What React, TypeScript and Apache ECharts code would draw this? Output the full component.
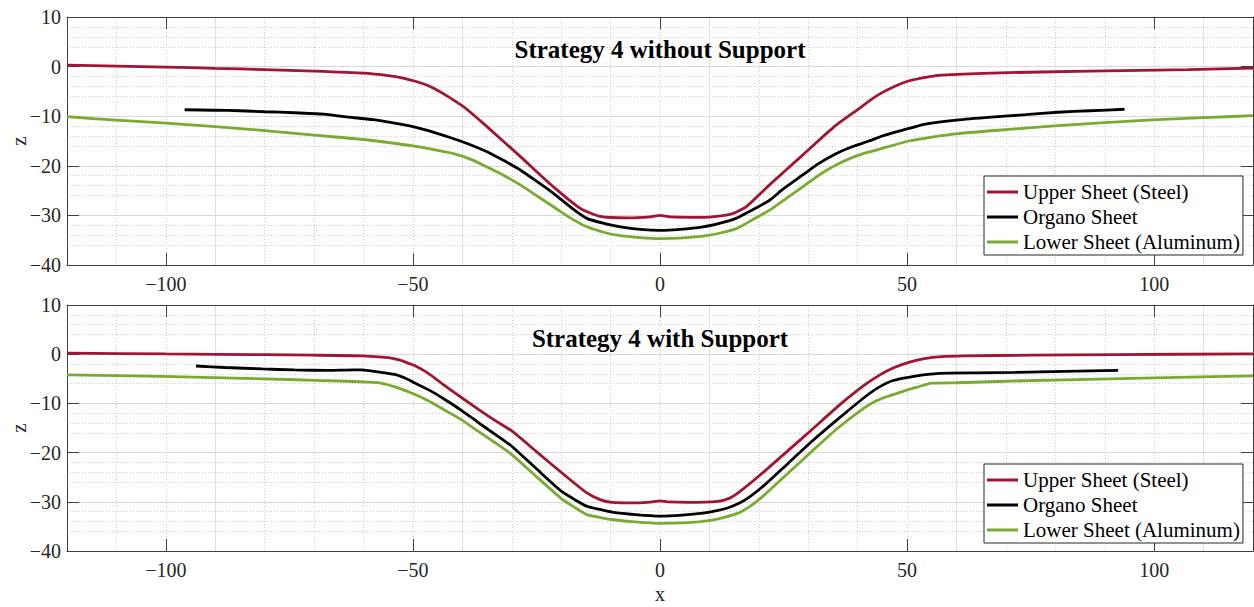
import React, { useEffect, useRef } from "react";
import * as echarts from "echarts";

const NAME_UP = "Upper Sheet (Steel)";
const NAME_ORG = "Organo Sheet";
const NAME_LOW = "Lower Sheet (Aluminum)";

const TITLE_TOP = "Strategy 4 without Support";
const TITLE_BOT = "Strategy 4 with Support";
const X_NAME = "x";
const Z_NAME = "z";

const X_MAJOR_TICKS = [-100, -50, 0, 50, 100];

// Top panel: Strategy 4 without Support
const topUpper: [number, number][] = [
  [-120, 0.3], [-110, 0.1], [-100, -0.1], [-90, -0.35], [-80, -0.6], [-70, -0.9],
  [-60, -1.3], [-55, -1.8], [-52, -2.3], [-49.7, -2.9], [-47.5, -3.6], [-45.7, -4.4],
  [-44.3, -5.2], [-42, -6.6], [-39.6, -8.2], [-34.9, -12.2], [-28.2, -18.2],
  [-21.5, -24.3], [-16.1, -28.6], [-12.1, -30.2], [-6.7, -30.5], [-2, -30.3],
  [0, -30.0], [2, -30.3], [8.7, -30.4], [14.1, -29.8], [17.4, -28.3], [22.1, -23.9],
  [28.8, -17.9], [35.5, -11.9], [40.2, -8.5], [42.5, -6.8], [44.5, -5.5], [47, -4.2],
  [50.3, -2.9], [54, -2.1], [57, -1.7], [67, -1.3], [87, -0.9], [107, -0.6], [120, -0.3],
];
const topOrgano: [number, number][] = [
  [-96.2, -8.7], [-90, -8.8], [-85, -8.9], [-80, -9.1], [-74, -9.3], [-68, -9.6],
  [-63.8, -10.1], [-58, -10.7], [-53.7, -11.4], [-50, -12.1], [-46.9, -12.9],
  [-44, -13.8], [-41, -14.8], [-38, -15.9], [-34.9, -17.2], [-31.5, -19.0],
  [-28.2, -20.9], [-25, -23.1], [-21.5, -25.6], [-18, -28.4], [-14.8, -30.6],
  [-11, -31.7], [-8, -32.3], [-4, -32.8], [0, -33.0], [4, -32.8], [8.7, -32.3],
  [12, -31.6], [15.4, -30.6], [18.5, -29.0], [22.1, -27.0], [25, -24.6], [28.8, -21.9],
  [32, -19.6], [35.5, -17.6], [39, -16.1], [42.3, -15.0], [45, -14.0], [48, -13.1],
  [51, -12.3], [53.7, -11.6], [60, -10.8], [67, -10.2], [74, -9.7], [80.5, -9.2],
  [87, -8.9], [94, -8.6],
];
const topLower: [number, number][] = [
  [-120, -10.1], [-110, -10.8], [-100, -11.4], [-90, -12.1], [-80, -12.9], [-70, -13.8],
  [-60, -14.7], [-55, -15.3], [-50, -16.0], [-45, -16.9], [-41.6, -17.6], [-38, -18.8],
  [-34.9, -20.3], [-31.5, -22.0], [-28.2, -23.9], [-25, -26.0], [-21.5, -28.3],
  [-18, -30.6], [-14.8, -32.3], [-11, -33.5], [-8, -34.1], [-4, -34.5], [0, -34.7],
  [4, -34.6], [8.7, -34.2], [12, -33.6], [15.4, -32.7], [18.5, -31.0], [22.1, -29.0],
  [25.5, -26.6], [28.8, -24.3], [32, -22.0], [35.5, -19.9], [39, -18.3], [42.3, -17.2],
  [46, -16.2], [50.3, -15.0], [55, -14.2], [60.4, -13.5], [70, -12.7], [80.5, -11.9],
  [90, -11.3], [100.6, -10.7], [110, -10.3], [120, -9.9],
];

// Bottom panel: Strategy 4 with Support
const botUpper: [number, number][] = [
  [-120, 0.2], [-100, 0.05], [-80, -0.1], [-70, -0.2], [-60.4, -0.35], [-55, -0.7],
  [-53, -1.1], [-51.5, -1.6], [-49.7, -2.3], [-47.5, -3.5], [-45.5, -4.9], [-43.7, -6.3],
  [-40.2, -8.8], [-36.9, -11.1], [-33.5, -13.4], [-30, -15.6], [-25, -19.8],
  [-19.9, -24.1], [-14.8, -28.2], [-12, -29.6], [-9.7, -30.1], [-4.6, -30.2],
  [-1.5, -30.0], [0, -29.8], [1.5, -30.0], [5.6, -30.1], [11.7, -29.9], [14, -29.3],
  [15.8, -28.2], [20.8, -24.1], [26, -19.5], [31.1, -15.0], [36, -10.6], [41.2, -6.4],
  [44.5, -4.2], [47.4, -2.7], [50.5, -1.6], [53.5, -0.9], [57, -0.5], [61.6, -0.35],
  [75, -0.2], [92.2, -0.07], [120, 0.06],
];
const botOrgano: [number, number][] = [
  [-93.9, -2.4], [-88, -2.7], [-80.5, -3.0], [-74, -3.2], [-67.1, -3.3], [-62, -3.2],
  [-60.4, -3.2], [-57, -3.6], [-53.7, -4.1], [-51.5, -4.9], [-49.7, -5.8], [-46.5, -7.4],
  [-43.7, -9.1], [-40.2, -11.4], [-36.9, -13.8], [-33.5, -16.2], [-30, -18.7],
  [-25, -23.3], [-19.9, -27.9], [-17, -29.7], [-14.8, -30.9], [-12, -31.6], [-9.7, -32.1],
  [-5, -32.6], [0, -32.9], [4.5, -32.7], [8.7, -32.3], [11.5, -31.8], [13.8, -31.2],
  [16, -30.3], [18, -29.1], [20.8, -26.9], [26, -22.1], [31.1, -17.4], [36, -13.2],
  [41.2, -8.9], [44, -6.9], [47, -5.4], [51.4, -4.5], [56.5, -3.9], [64, -3.8],
  [71.8, -3.7], [82, -3.5], [92.7, -3.3],
];
const botLower: [number, number][] = [
  [-120, -4.2], [-100.6, -4.5], [-80.5, -5.0], [-70, -5.3], [-60.4, -5.6], [-57, -5.8],
  [-53.5, -6.7], [-50.3, -7.9], [-47, -9.4], [-43.7, -11.3], [-40.2, -13.3],
  [-36.9, -15.6], [-33.5, -17.9], [-30, -20.4], [-25, -24.9], [-19.9, -29.4],
  [-17, -31.3], [-14.8, -32.6], [-12, -33.2], [-9.7, -33.6], [-5, -34.1], [0, -34.4],
  [4.5, -34.3], [8.7, -34.0], [12, -33.4], [15.8, -32.3], [18, -31.1], [20.8, -28.9],
  [26, -24.1], [31.1, -19.4], [36, -15.0], [41.2, -11.0], [43.5, -9.6], [46, -8.6],
  [48.4, -7.8], [52, -6.7], [55, -5.9], [60, -5.8], [70, -5.5], [82, -5.2], [100, -4.8],
  [120, -4.4],
];

const RED = "#a2142f";
const BLACK = "#000000";
const GREEN = "#77ac30";
const AXIS = "#404040";
const MAJOR = "#e0e0e0";
const MINOR = "#cccccc";
const T = "rgba(0,0,0,0)";
const FONT = "Liberation Serif";

const fmt = (v: number) => (v < 0 ? "\u2212" + Math.abs(v) : String(v));

export default function App() {
  const ref = useRef<HTMLDivElement>(null);

  useEffect(() => {
    if (!ref.current) return;
    const chart = echarts.init(ref.current, undefined, { renderer: "svg" });

    const grids = [
      { left: 67, top: 17, width: 1186, height: 248, outerBoundsMode: "none", containLabel: false },
      { left: 67, top: 305, width: 1186, height: 246, outerBoundsMode: "none", containLabel: false },
    ];

    const xAxes: any[] = [];
    const yAxes: any[] = [];
    grids.forEach((_, g) => {
      const base = { type: "value", gridIndex: g, min: -120, max: 120, interval: 10 };
      // main bottom axis
      xAxes.push({
        ...base,
        position: "bottom",
        axisLine: { show: true, onZero: false, lineStyle: { color: AXIS, width: 1 } },
        axisTick: { show: true, inside: true, length: 12, customValues: X_MAJOR_TICKS, lineStyle: { color: AXIS } },
        axisLabel: {
          show: true, customValues: X_MAJOR_TICKS, margin: 9,
          formatter: (v: number) => fmt(v),
          fontFamily: FONT, fontSize: 20, color: "#262626",
        },
        splitLine: { show: false },
      });
      // major vertical grid
      xAxes.push({
        ...base,
        position: "bottom",
        axisLine: { show: false }, axisTick: { show: false }, axisLabel: { show: false },
        splitLine: { show: true, showMinLine: false, showMaxLine: false, lineStyle: { color: [T, T, MAJOR, T, T], width: 1, type: "solid" } },
      });
      // minor vertical grid
      xAxes.push({
        ...base,
        position: "bottom",
        axisLine: { show: false }, axisTick: { show: false }, axisLabel: { show: false },
        splitLine: { show: true, showMinLine: false, showMaxLine: false, lineStyle: { color: [MINOR, MINOR, T, MINOR, MINOR], width: 1, type: [1, 2] } },
      });
      // top box axis
      xAxes.push({
        ...base,
        position: "top",
        axisLine: { show: true, onZero: false, lineStyle: { color: AXIS, width: 1 } },
        axisTick: { show: true, inside: true, length: 12, customValues: X_MAJOR_TICKS, lineStyle: { color: AXIS } },
        axisLabel: { show: false },
        splitLine: { show: false },
      });

      const ybase = { type: "value", gridIndex: g, min: -40, max: 10 };
      yAxes.push({
        ...ybase,
        interval: 10,
        position: "left",
        axisLine: { show: true, onZero: false, lineStyle: { color: AXIS, width: 1 } },
        axisTick: { show: true, inside: true, length: 12, lineStyle: { color: AXIS } },
        axisLabel: { show: true, margin: 6, formatter: (v: number) => fmt(v), fontFamily: FONT, fontSize: 20, color: "#262626" },
        splitLine: { show: true, showMinLine: false, showMaxLine: false, lineStyle: { color: MAJOR, width: 1, type: "solid" } },
      });
      yAxes.push({
        ...ybase,
        interval: 2,
        position: "left",
        axisLine: { show: false }, axisTick: { show: false }, axisLabel: { show: false },
        splitLine: { show: true, showMinLine: false, showMaxLine: false, lineStyle: { color: [T, MINOR, MINOR, MINOR, MINOR], width: 1, type: [1, 2] } },
      });
      yAxes.push({
        ...ybase,
        interval: 10,
        position: "right",
        axisLine: { show: true, onZero: false, lineStyle: { color: AXIS, width: 1 } },
        axisTick: { show: true, inside: true, length: 12, lineStyle: { color: AXIS } },
        axisLabel: { show: false },
        splitLine: { show: false },
      });
    });

    const mk = (name: string, data: [number, number][], color: string, g: number) => ({
      type: "line",
      name,
      data,
      xAxisIndex: g * 4,
      yAxisIndex: g * 3,
      showSymbol: false,
      symbol: "none",
      smooth: 0.2,
      lineStyle: { color, width: 2.8 },
      itemStyle: { color },
      z: 3,
    });

    const legendBase = {
      orient: "vertical",
      left: 984,
      padding: [5, 3, 2, 3],
      itemGap: 3,
      itemWidth: 31,
      itemHeight: 3,
      icon: "rect",
      borderColor: "#262626",
      borderWidth: 1,
      backgroundColor: "#ffffff",
      textStyle: { fontFamily: FONT, fontSize: 21, lineHeight: 22, color: "#000" },
      data: [NAME_UP, NAME_ORG, NAME_LOW],
      selectedMode: false,
    };

    const titleStyle = { textAlign: "center", textVerticalAlign: "middle", fontFamily: FONT, fontSize: 25, fontWeight: "bold", fill: "#000" };
    const nameStyle = { textAlign: "center", textVerticalAlign: "middle", fontFamily: FONT, fontSize: 21, lineHeight: 14, fill: "#262626" };

    chart.setOption({
      animation: false,
      backgroundColor: "#ffffff",
      grid: grids,
      xAxis: xAxes,
      yAxis: yAxes,
      legend: [
        { ...legendBase, top: 176 },
        { ...legendBase, top: 464 },
      ],
      graphic: [
        { type: "text", x: 660, y: 49, z: 10, style: { ...titleStyle, text: TITLE_TOP } },
        { type: "text", x: 660, y: 338, z: 10, style: { ...titleStyle, text: TITLE_BOT } },
        { type: "text", x: 19, y: 141, rotation: Math.PI / 2, z: 10, style: { ...nameStyle, text: Z_NAME } },
        { type: "text", x: 19, y: 428, rotation: Math.PI / 2, z: 10, style: { ...nameStyle, text: Z_NAME } },
        { type: "text", x: 660, y: 594, z: 10, style: { ...nameStyle, fontSize: 20, text: X_NAME } },
      ],
      series: [
        mk(NAME_UP, topUpper, RED, 0),
        mk(NAME_ORG, topOrgano, BLACK, 0),
        mk(NAME_LOW, topLower, GREEN, 0),
        mk(NAME_UP, botUpper, RED, 1),
        mk(NAME_ORG, botOrgano, BLACK, 1),
        mk(NAME_LOW, botLower, GREEN, 1),
      ],
    });

    return () => chart.dispose();
  }, []);

  return (
    <div
      ref={ref}
      style={{ position: "fixed", left: 0, top: 0, width: 1254, height: 607, background: "#fff" }}
    />
  );
}
